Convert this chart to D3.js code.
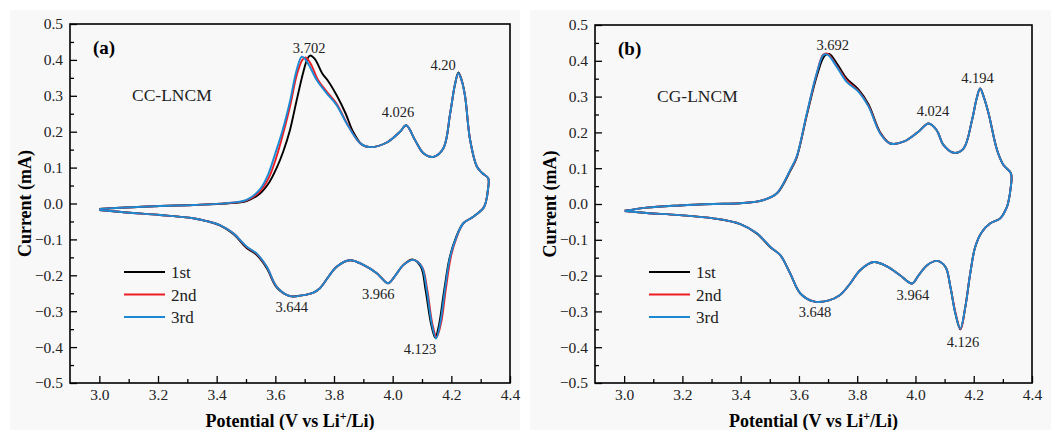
<!DOCTYPE html>
<html>
<head>
<meta charset="utf-8">
<script src="https://cdn.jsdelivr.net/npm/d3@7"></script>
<style>
  body { margin: 0; background: #fff; }
  svg { display: block; font-family: "Liberation Serif", "Times New Roman", serif; }
  svg text { font-family: "Liberation Serif", "Times New Roman", serif; }
</style>
</head>
<body>
<svg id="chart" width="1051" height="430"></svg>
<script>
// ---- data: [potential (V), current (mA)] around each CV loop ----
let ccCycle1 = [
  [3.000,-0.015],[3.093,-0.011],[3.207,-0.007],[3.320,-0.004],[3.434,0.000],[3.502,0.007],[3.548,0.028],
  [3.580,0.060],[3.605,0.100],[3.627,0.145],[3.650,0.205],[3.672,0.285],[3.695,0.365],[3.708,0.400],
  [3.718,0.412],[3.735,0.402],[3.760,0.362],[3.781,0.340],[3.810,0.300],[3.840,0.250],[3.865,0.200],
  [3.895,0.164],[3.923,0.157],
  [3.980,0.170],[4.025,0.200],[4.046,0.218],[4.076,0.177],[4.105,0.140],[4.139,0.130],[4.173,0.154],
  [4.196,0.251],[4.212,0.330],[4.224,0.365],[4.236,0.342],[4.247,0.298],[4.264,0.177],[4.287,0.103],
  [4.305,0.085],[4.326,0.070],[4.325,0.040],[4.318,0.005],[4.309,-0.013],[4.275,-0.037],[4.241,-0.055],
  [4.216,-0.094],[4.194,-0.152],[4.175,-0.245],[4.158,-0.338],[4.145,-0.374],[4.130,-0.332],[4.112,-0.240],
  [4.096,-0.176],[4.068,-0.156],[4.037,-0.171],[4.005,-0.205],[3.985,-0.222],[3.946,-0.194],[3.900,-0.171],
  [3.855,-0.158],[3.809,-0.176],[3.752,-0.236],[3.730,-0.248],[3.690,-0.256],[3.650,-0.258],[3.605,-0.234],
  [3.571,-0.180],[3.536,-0.143],[3.502,-0.124],[3.457,-0.085],[3.411,-0.061],[3.366,-0.049],[3.320,-0.041],
  [3.207,-0.032],[3.093,-0.025],[3.000,-0.018]
];
let ccCycle2 = [
  [3.000,-0.015],[3.093,-0.011],[3.207,-0.007],[3.320,-0.004],[3.434,0.001],[3.502,0.009],[3.548,0.034],
  [3.578,0.072],[3.602,0.125],[3.625,0.190],[3.650,0.270],[3.673,0.358],[3.692,0.400],[3.703,0.407],
  [3.720,0.390],[3.745,0.345],[3.775,0.312],[3.809,0.278],[3.843,0.225],[3.889,0.168],[3.923,0.157],
  [3.980,0.170],[4.025,0.200],[4.046,0.218],[4.076,0.177],[4.105,0.140],[4.139,0.130],[4.173,0.154],
  [4.196,0.251],[4.212,0.330],[4.224,0.362],[4.236,0.340],[4.247,0.298],[4.264,0.177],[4.287,0.103],
  [4.305,0.085],[4.326,0.070],[4.325,0.040],[4.318,0.005],[4.309,-0.013],[4.275,-0.037],[4.241,-0.055],
  [4.220,-0.090],[4.199,-0.146],[4.181,-0.240],[4.165,-0.333],[4.150,-0.372],[4.135,-0.334],[4.118,-0.241],
  [4.100,-0.176],[4.071,-0.157],[4.037,-0.171],[4.005,-0.205],[3.985,-0.222],[3.946,-0.194],[3.900,-0.171],
  [3.855,-0.158],[3.809,-0.176],[3.752,-0.236],[3.730,-0.248],[3.690,-0.256],[3.650,-0.258],[3.605,-0.232],
  [3.571,-0.177],[3.536,-0.140],[3.502,-0.121],[3.457,-0.083],[3.411,-0.060],[3.366,-0.049],[3.320,-0.041],
  [3.207,-0.032],[3.093,-0.025],[3.000,-0.018]
];
let ccCycle3 = [
  [3.000,-0.015],[3.093,-0.011],[3.207,-0.007],[3.320,-0.004],[3.434,0.001],[3.502,0.010],[3.548,0.040],
  [3.575,0.080],[3.600,0.140],[3.625,0.205],[3.650,0.285],[3.672,0.370],[3.690,0.409],[3.700,0.404],
  [3.715,0.385],[3.741,0.344],[3.775,0.307],[3.809,0.274],[3.843,0.223],[3.889,0.168],[3.923,0.157],
  [3.980,0.170],[4.025,0.200],[4.046,0.218],[4.076,0.177],[4.105,0.140],[4.139,0.130],[4.173,0.154],
  [4.196,0.251],[4.212,0.330],[4.224,0.363],[4.236,0.340],[4.247,0.298],[4.264,0.177],[4.287,0.103],
  [4.305,0.085],[4.326,0.070],[4.325,0.040],[4.318,0.005],[4.309,-0.013],[4.275,-0.037],[4.241,-0.055],
  [4.218,-0.092],[4.196,-0.148],[4.178,-0.241],[4.162,-0.334],[4.148,-0.376],[4.133,-0.334],[4.116,-0.241],
  [4.099,-0.176],[4.071,-0.157],[4.037,-0.171],[4.005,-0.205],[3.985,-0.222],[3.946,-0.194],[3.900,-0.171],
  [3.855,-0.158],[3.809,-0.176],[3.752,-0.236],[3.730,-0.248],[3.690,-0.256],[3.650,-0.258],[3.605,-0.232],
  [3.571,-0.176],[3.536,-0.139],[3.502,-0.120],[3.457,-0.083],[3.411,-0.060],[3.366,-0.049],[3.320,-0.041],
  [3.207,-0.032],[3.093,-0.025],[3.000,-0.018]
];

let cgCycle1 = [
  [3.002,-0.019],[3.077,-0.010],[3.191,-0.004],[3.306,0.000],[3.397,0.002],[3.478,0.011],[3.524,0.029],
  [3.570,0.092],[3.592,0.129],[3.627,0.248],[3.663,0.362],[3.688,0.414],[3.704,0.419],[3.732,0.390],
  [3.764,0.350],[3.804,0.320],[3.839,0.278],[3.879,0.200],[3.913,0.169],[3.959,0.174],[4.010,0.202],
  [4.045,0.225],[4.073,0.206],[4.096,0.165],[4.131,0.143],[4.165,0.155],[4.194,0.234],[4.210,0.295],
  [4.222,0.323],[4.234,0.300],[4.251,0.253],[4.280,0.151],[4.302,0.109],[4.328,0.085],[4.326,0.040],
  [4.320,0.010],[4.314,-0.008],[4.291,-0.040],[4.257,-0.054],[4.228,-0.078],[4.205,-0.120],[4.188,-0.194],
  [4.171,-0.288],[4.154,-0.350],[4.137,-0.306],[4.120,-0.232],[4.103,-0.176],[4.074,-0.159],[4.040,-0.171],
  [4.010,-0.200],[3.988,-0.222],[3.947,-0.199],[3.902,-0.174],[3.856,-0.162],[3.810,-0.185],[3.776,-0.222],
  [3.740,-0.255],[3.700,-0.270],[3.650,-0.272],[3.605,-0.250],[3.570,-0.194],[3.536,-0.143],[3.502,-0.121],
  [3.456,-0.083],[3.399,-0.056],[3.306,-0.040],[3.191,-0.031],[3.077,-0.025],[3.002,-0.020]
];
let cgCycle2 = [
  [3.002,-0.019],[3.077,-0.010],[3.191,-0.004],[3.306,0.000],[3.397,0.002],[3.478,0.011],[3.524,0.030],
  [3.570,0.094],[3.592,0.131],[3.627,0.251],[3.661,0.364],[3.683,0.417],[3.698,0.420],[3.728,0.388],
  [3.764,0.345],[3.804,0.316],[3.839,0.274],[3.879,0.198],[3.913,0.169],[3.959,0.174],[4.010,0.202],
  [4.045,0.225],[4.073,0.206],[4.096,0.165],[4.131,0.143],[4.165,0.155],[4.194,0.234],[4.210,0.295],
  [4.222,0.323],[4.234,0.300],[4.251,0.253],[4.280,0.151],[4.302,0.109],[4.328,0.085],[4.326,0.040],
  [4.320,0.010],[4.314,-0.008],[4.291,-0.040],[4.257,-0.054],[4.228,-0.078],[4.205,-0.120],[4.188,-0.194],
  [4.171,-0.288],[4.155,-0.350],[4.138,-0.306],[4.120,-0.232],[4.103,-0.176],[4.074,-0.159],[4.040,-0.171],
  [4.010,-0.200],[3.988,-0.222],[3.947,-0.199],[3.902,-0.174],[3.856,-0.162],[3.810,-0.185],[3.776,-0.222],
  [3.740,-0.255],[3.700,-0.270],[3.650,-0.272],[3.605,-0.250],[3.570,-0.194],[3.536,-0.143],[3.502,-0.120],
  [3.456,-0.082],[3.399,-0.056],[3.306,-0.040],[3.191,-0.031],[3.077,-0.025],[3.002,-0.020]
];
let cgCycle3 = [
  [3.002,-0.019],[3.077,-0.010],[3.191,-0.004],[3.306,0.000],[3.397,0.002],[3.478,0.011],[3.524,0.030],
  [3.570,0.095],[3.592,0.132],[3.627,0.253],[3.661,0.365],[3.684,0.416],[3.698,0.417],[3.730,0.383],
  [3.764,0.341],[3.804,0.314],[3.839,0.272],[3.879,0.197],[3.913,0.169],[3.959,0.174],[4.010,0.202],
  [4.045,0.225],[4.073,0.206],[4.096,0.165],[4.131,0.143],[4.165,0.155],[4.194,0.234],[4.210,0.295],
  [4.222,0.323],[4.234,0.300],[4.251,0.253],[4.280,0.151],[4.302,0.109],[4.328,0.085],[4.326,0.040],
  [4.320,0.010],[4.314,-0.008],[4.291,-0.040],[4.257,-0.054],[4.228,-0.078],[4.205,-0.120],[4.188,-0.194],
  [4.171,-0.288],[4.154,-0.348],[4.137,-0.306],[4.120,-0.232],[4.103,-0.176],[4.074,-0.159],[4.040,-0.171],
  [4.010,-0.200],[3.988,-0.222],[3.947,-0.199],[3.902,-0.174],[3.856,-0.162],[3.810,-0.185],[3.776,-0.222],
  [3.740,-0.255],[3.700,-0.270],[3.650,-0.272],[3.605,-0.250],[3.570,-0.194],[3.536,-0.143],[3.502,-0.120],
  [3.456,-0.082],[3.399,-0.056],[3.306,-0.040],[3.191,-0.031],[3.077,-0.025],[3.002,-0.020]
];

let cycleNames = ["1st", "2nd", "3rd"];
let cycleColors = ["#000000", "#ee1c25", "#1b8ad3"];
let xTicks = [3.0, 3.2, 3.4, 3.6, 3.8, 4.0, 4.2, 4.4];
let yTicks = [-0.5, -0.4, -0.3, -0.2, -0.1, 0.0, 0.1, 0.2, 0.3, 0.4, 0.5];

// peak annotations: label text and where it sits (V, mA)
let ccPeaks = [
  {label: "3.702", x: 3.715, y: 0.420},
  {label: "4.026", x: 4.018, y: 0.241},
  {label: "4.20", x: 4.172, y: 0.372},
  {label: "3.644", x: 3.656, y: -0.303},
  {label: "3.966", x: 3.951, y: -0.267},
  {label: "4.123", x: 4.093, y: -0.419}
];
let cgPeaks = [
  {label: "3.692", x: 3.716, y: 0.430},
  {label: "4.024", x: 4.060, y: 0.246},
  {label: "4.194", x: 4.213, y: 0.337},
  {label: "3.648", x: 3.655, y: -0.315},
  {label: "3.964", x: 3.991, y: -0.267},
  {label: "4.126", x: 4.163, y: -0.399}
];

let svg = d3.select("#chart");
let serif = "'Liberation Serif', 'Times New Roman', serif";

// light grey paper behind each panel
svg.append("rect").attr("x", 10).attr("y", 10).attr("width", 510).attr("height", 420).attr("fill", "#f8f8f8");
svg.append("rect").attr("x", 530).attr("y", 10).attr("width", 521).attr("height", 420).attr("fill", "#f8f8f8");

function panel(opt) {
  let x = d3.scaleLinear().domain([2.9, 4.4]).range([opt.left, opt.right]);
  let y = d3.scaleLinear().domain([-0.5, 0.5]).range([opt.bottom, opt.top]);
  let g = svg.append("g");

  // minor ticks
  let xMinor = d3.range(3.1, 4.4, 0.2);
  let yMinor = d3.range(-0.45, 0.5, 0.1);

  g.append("g")
    .attr("transform", "translate(0," + opt.bottom + ")")
    .call(d3.axisBottom(x).tickValues(xMinor).tickSize(-4).tickSizeOuter(0).tickFormat(""))
    .call(a => a.select(".domain").remove());
  g.append("g")
    .attr("transform", "translate(" + opt.left + ",0)")
    .call(d3.axisLeft(y).tickValues(yMinor).tickSize(-4).tickSizeOuter(0).tickFormat(""))
    .call(a => a.select(".domain").remove());

  let xAxis = g.append("g")
    .attr("transform", "translate(0," + opt.bottom + ")")
    .call(d3.axisBottom(x).tickValues(xTicks).tickSize(-7).tickSizeOuter(0).tickPadding(6).tickFormat(d3.format(".1f")));
  let yAxis = g.append("g")
    .attr("transform", "translate(" + opt.left + ",0)")
    .call(d3.axisLeft(y).tickValues(yTicks).tickSize(-7).tickSizeOuter(0).tickPadding(7).tickFormat(d3.format(".1f")));
  [xAxis, yAxis].forEach(a => {
    a.select(".domain").remove();
    a.attr("font-family", serif).attr("font-size", 15.5);
    a.selectAll("text").attr("fill", "#222");
  });
  g.selectAll(".tick line").attr("stroke", "#000").attr("stroke-width", 1.3);

  // curves (3rd drawn last, on top)
  let line = d3.line().x(d => x(d[0])).y(d => y(d[1])).curve(d3.curveCatmullRom.alpha(0.5));
  opt.cycles.forEach((c, i) => {
    g.append("path")
      .datum(c)
      .attr("fill", "none")
      .attr("stroke", cycleColors[i])
      .attr("stroke-width", 1.9)
      .attr("stroke-linejoin", "round")
      .attr("d", line);
  });

  // frame
  g.append("rect")
    .attr("x", opt.left).attr("y", opt.top)
    .attr("width", opt.right - opt.left).attr("height", opt.bottom - opt.top)
    .attr("fill", "none").attr("stroke", "#000").attr("stroke-width", 1.6);

  // peak labels
  g.selectAll(".peak").data(opt.peaks).enter().append("text")
    .attr("x", d => x(d.x)).attr("y", d => y(d.y))
    .attr("text-anchor", "middle").attr("font-size", 14.5).attr("fill", "#222")
    .text(d => d.label);

  // panel letter and sample name
  g.append("text").attr("x", opt.left + 23).attr("y", opt.top + 30)
    .attr("font-size", 19).attr("font-weight", "bold").text(opt.letter);
  g.append("text").attr("x", opt.left + 62).attr("y", opt.top + 77)
    .attr("font-size", 17.5).attr("fill", "#222").text(opt.name);

  // legend
  let legend = g.append("g").selectAll("g").data(cycleNames).enter().append("g")
    .attr("transform", (d, i) => "translate(" + (opt.left + 54) + "," + (272 + i * 22.5) + ")");
  legend.append("line").attr("x1", 0).attr("x2", 41).attr("stroke", (d, i) => cycleColors[i]).attr("stroke-width", 2);
  legend.append("text").attr("x", 47).attr("y", 6).attr("font-size", 17).attr("fill", "#222").text(d => d);

  // axis titles
  let xt = g.append("text").attr("x", (opt.left + opt.right) / 2).attr("y", 427)
    .attr("text-anchor", "middle").attr("font-size", 18).attr("font-weight", "bold");
  xt.append("tspan").text("Potential (V vs Li");
  xt.append("tspan").attr("dy", -7).attr("font-size", 12).text("+");
  xt.append("tspan").attr("dy", 7).text("/Li)");

  g.append("text")
    .attr("transform", "translate(" + (opt.left - 39) + "," + ((opt.top + opt.bottom) / 2) + ") rotate(-90)")
    .attr("text-anchor", "middle").attr("font-size", 18).attr("font-weight", "bold")
    .text("Current (mA)");
}

panel({left: 70, right: 510, top: 24, bottom: 383, cycles: [ccCycle1, ccCycle2, ccCycle3], peaks: ccPeaks, letter: "(a)", name: "CC-LNCM"});
panel({left: 595, right: 1032, top: 25, bottom: 383, cycles: [cgCycle1, cgCycle2, cgCycle3], peaks: cgPeaks, letter: "(b)", name: "CG-LNCM"});
</script>
</body>
</html>
